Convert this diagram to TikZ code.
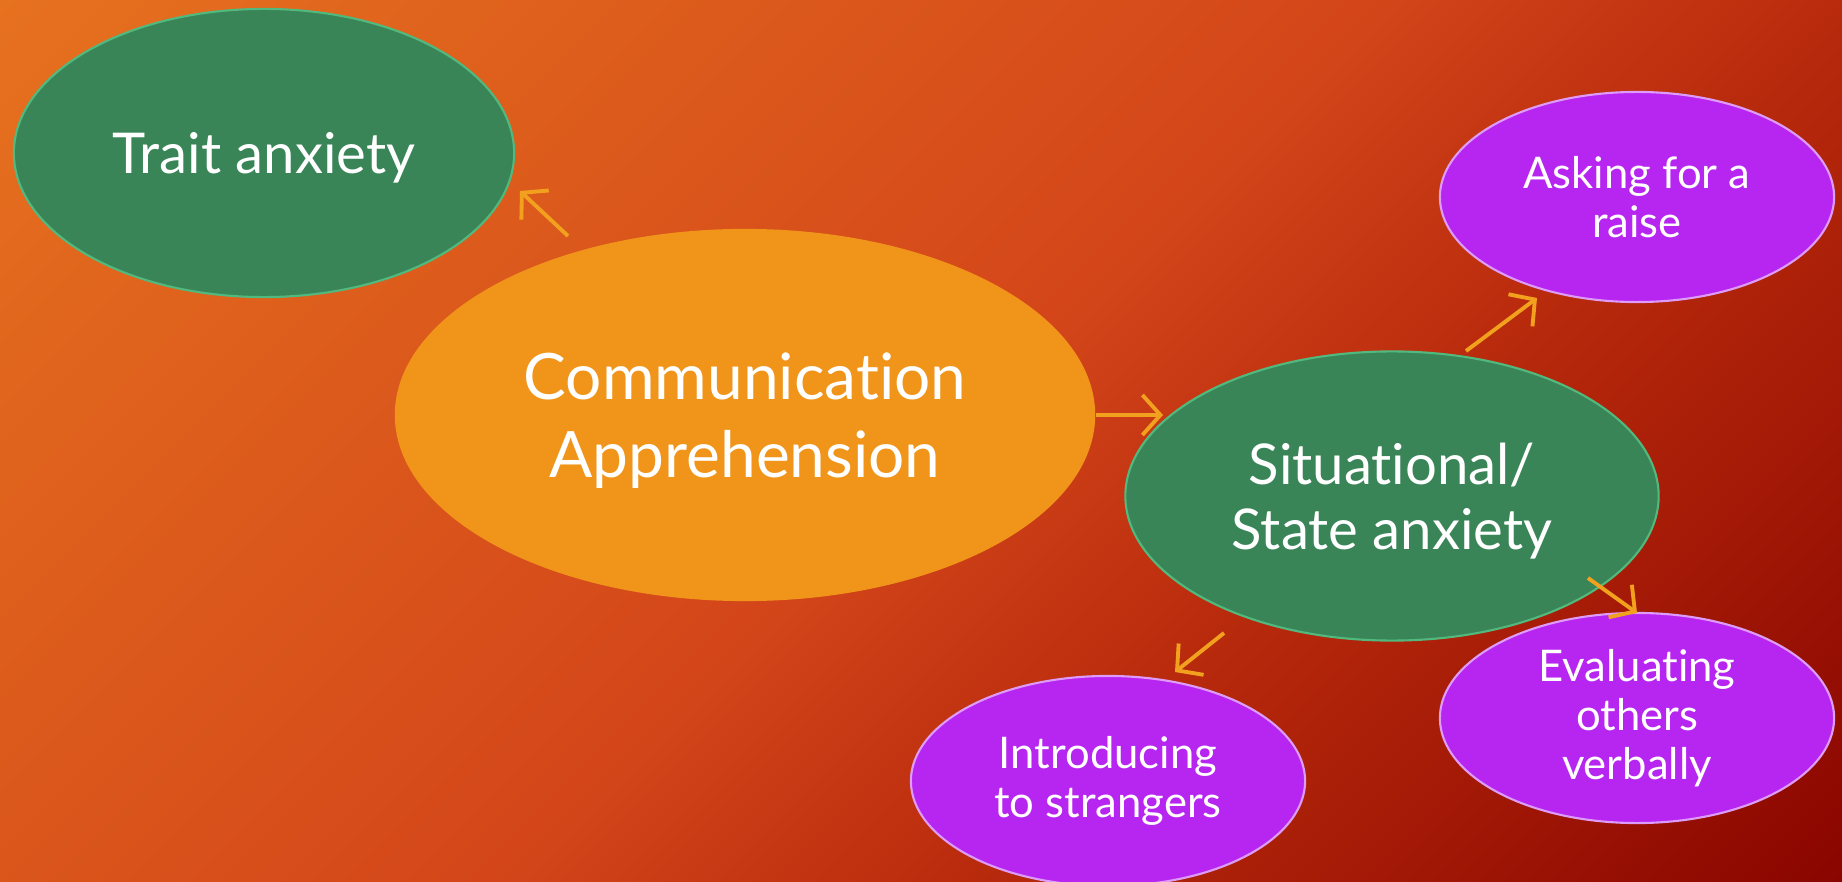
\documentclass[tikz,border=0pt]{standalone}
\usepackage{fontspec}
\setmainfont{Lato}[Ligatures=NoCommon]
\usetikzlibrary{shapes.geometric,arrows.meta}
\definecolor{bga}{HTML}{E6711F}
\definecolor{bgb}{HTML}{DD5D1C}
\definecolor{bgc}{HTML}{D4461A}
\definecolor{bgd}{HTML}{B82A0C}
\definecolor{bge}{HTML}{8A0500}
\definecolor{ggreen}{HTML}{3A8558}
\definecolor{gedge}{HTML}{52B97E}
\definecolor{corange}{HTML}{F0951A}
\definecolor{ppurple}{HTML}{B725F1}
\definecolor{pedge}{HTML}{DE9BF8}
\definecolor{arrcol}{HTML}{F2A11E}
\pgfdeclarehorizontalshading{bgshade}{100bp}{color(0bp)=(bga); color(25bp)=(bga); color(37bp)=(bgb); color(50bp)=(bgc); color(59bp)=(bgd); color(75bp)=(bge); color(100bp)=(bge)}

\begin{document}
\begin{tikzpicture}[x=0.01cm,y=-0.01cm,
  bubble/.style={ellipse, inner sep=0pt, text=white, align=center, line width=0.6pt},
  greenbub/.style={bubble, fill=ggreen, draw=gedge, text depth=0pt, font=\fontsize{16}{18.5}\selectfont},
  purplebub/.style={bubble, fill=ppurple, draw=pedge, minimum width=3.94cm, minimum height=2.1cm, font=\fontsize{12.4}{13.9}\selectfont},
  arr/.style={draw=arrcol, line width=1.1pt, -{Straight Barb[length=0.18cm,width=0.4cm]}}]
% background
\useasboundingbox (0,0) rectangle (1842,882);
\begin{scope}
  \clip (0,0) rectangle (1842,882);
  \begin{scope}[transform canvas={shift={(921,441)},rotate=-45}]
    \shade[shading=bgshade] (-963,-1000) rectangle (963,1000);
  \end{scope}
\end{scope}

\node[greenbub, minimum width=5cm, minimum height=2.88cm] (trait) at (264,153) {Trait anxiety};
\node[bubble, fill=corange, minimum width=7cm, minimum height=3.72cm, text depth=0pt, font=\fontsize{18.2}{22.2}\selectfont] (comm) at (745,415) {Communication\\Apprehension};
\node[greenbub, minimum width=5.33cm, minimum height=2.89cm] (sit) at (1392,496) {Situational/\\State anxiety};
\node[purplebub] (raise) at (1637,197) {Asking for a\\raise};
\node[purplebub] (eval) at (1637,718) {Evaluating\\others\\verbally};
\node[purplebub] (intro) at (1108,781) {Introducing\\to strangers};

% arrow ends
\coordinate (traittip) at (520,191);
\coordinate (commtail) at (568,236);
\coordinate (sittip) at (1163,415);
\coordinate (raisetail) at (1466,351);
\coordinate (raisetip) at (1537,298);
\coordinate (evaltail) at (1588,578);
\coordinate (evaltip) at (1637,613);
\coordinate (introtail) at (1224,633);
\coordinate (introtip) at (1175,672);

\draw[arr] (commtail) -- (traittip);
\draw[arr] (comm.east) -- (sittip);
\draw[arr] (raisetail) -- (raisetip);
\draw[arr] (evaltail) -- (evaltip);
\draw[arr] (introtail) -- (introtip);
\end{tikzpicture}
\end{document}
